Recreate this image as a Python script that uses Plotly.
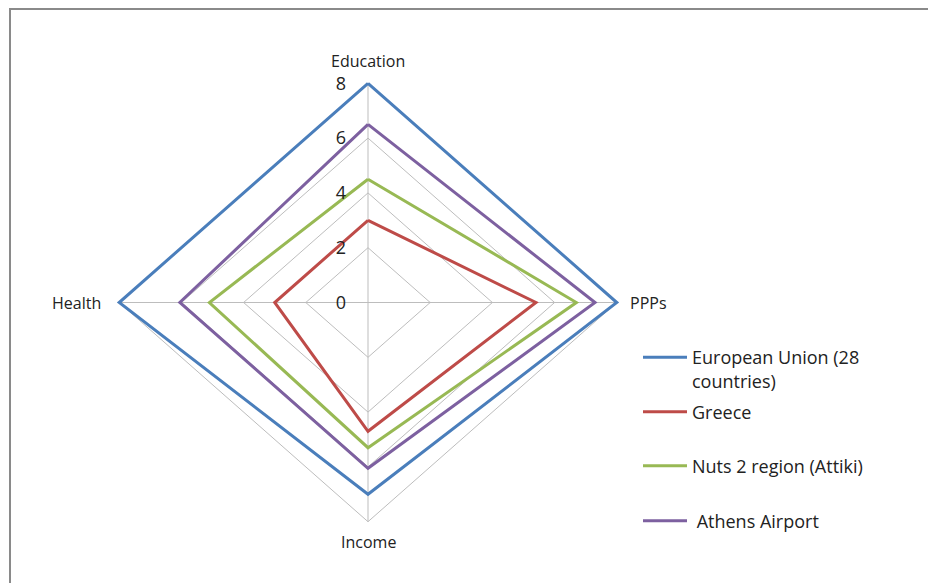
import plotly.graph_objects as go

categories = ["Education", "PPPs", "Income", "Health"]
tick_values = [0, 2, 4, 6, 8]

series_names = ["European Union (28<br>countries)", "Greece", "Nuts 2 region (Attiki)", " Athens Airport"]
eu_values = [8.0, 8.0, 7.0, 8.0]
greece_values = [3.0, 5.4, 4.7, 3.0]
attiki_values = [4.5, 6.7, 5.3, 5.1]
airport_values = [6.5, 7.3, 6.05, 6.05]
series_values = [eu_values, greece_values, attiki_values, airport_values]
series_colors = ["#4A7EBB", "#BE4B48", "#98B954", "#7D60A0"]

# direction of each category axis (clockwise from top)
dir_x = [0, 1, 0, -1]
dir_y = [1, 0, -1, 0]

W, H = 928, 583
cx, cy = 368, 302.5
px_x, px_y = 31.1, 27.4

fig = go.Figure()

# grid polygons
for r in tick_values[1:]:
    xs = [r * d for d in dir_x] + [r * dir_x[0]]
    ys = [r * d for d in dir_y] + [r * dir_y[0]]
    fig.add_trace(go.Scatter(x=xs, y=ys, mode="lines", line=dict(color="#BDBDBD", width=1),
                             showlegend=False, hoverinfo="skip"))
# spokes
rmax = tick_values[-1]
for i in range(len(categories)):
    fig.add_trace(go.Scatter(x=[0, rmax * dir_x[i]], y=[0, rmax * dir_y[i]], mode="lines",
                             line=dict(color="#BDBDBD", width=1), showlegend=False, hoverinfo="skip"))

legend_ids = ["legend", "legend2", "legend3", "legend4"]
for name, vals, col, lg in zip(series_names, series_values, series_colors, legend_ids):
    xs = [v * d for v, d in zip(vals, dir_x)] + [vals[0] * dir_x[0]]
    ys = [v * d for v, d in zip(vals, dir_y)] + [vals[0] * dir_y[0]]
    fig.add_trace(go.Scatter(x=xs, y=ys, mode="lines", name=name, line=dict(color=col, width=3),
                             legend=lg, hovertemplate="%{x}, %{y}<extra>" + name + "</extra>"))

# category labels
label_font = dict(family="Open Sans", size=16, color="#222222")
offsets = [(0, 22), (11, 0), (0, -20), (-16, 0)]
anchors = ["center", "left", "center", "right"]
for cat, dx, dy, (ox, oy), an in zip(categories, dir_x, dir_y, offsets, anchors):
    fig.add_annotation(x=rmax * dx, y=rmax * dy, text=cat, showarrow=False, xanchor=an,
                       yanchor="middle", xshift=ox, yshift=oy, font=label_font)

legend_y = [357, 412, 466, 521]
legend_common = dict(font=dict(family="Open Sans", size=18, color="#222222"), bgcolor="rgba(0,0,0,0)",
                     xanchor="left", yanchor="middle", itemwidth=44, valign="top")
legends = {}
for lg, ly in zip(legend_ids, legend_y):
    d = dict(legend_common)
    d["x"] = 638 / W
    d["y"] = 1 - ly / H
    if lg == "legend":
        d["y"] = 1 - (ly + 12) / H
    legends[lg] = d

fig.update_layout(
    width=W, height=H,
    margin=dict(l=0, r=0, t=0, b=0),
    paper_bgcolor="white", plot_bgcolor="white",
    xaxis=dict(range=[-cx / px_x, (W - cx) / px_x], visible=False, fixedrange=True),
    yaxis=dict(range=[-(H - cy) / px_y, cy / px_y], anchor="free", position=cx / W,
               tickvals=tick_values, ticktext=[str(t) for t in tick_values],
               showgrid=False, zeroline=False, showline=False, ticks="",
               ticklabelstandoff=22, tickfont=dict(family="Open Sans", size=18, color="#222222"),
               fixedrange=True),
    shapes=[dict(type="rect", xref="paper", yref="paper", x0=10 / W, x1=1.02, y0=-0.02, y1=1 - 9 / H,
                 line=dict(color="#8A8A8A", width=2), layer="above")],
    **legends,
)

fig.write_html("out.html")
